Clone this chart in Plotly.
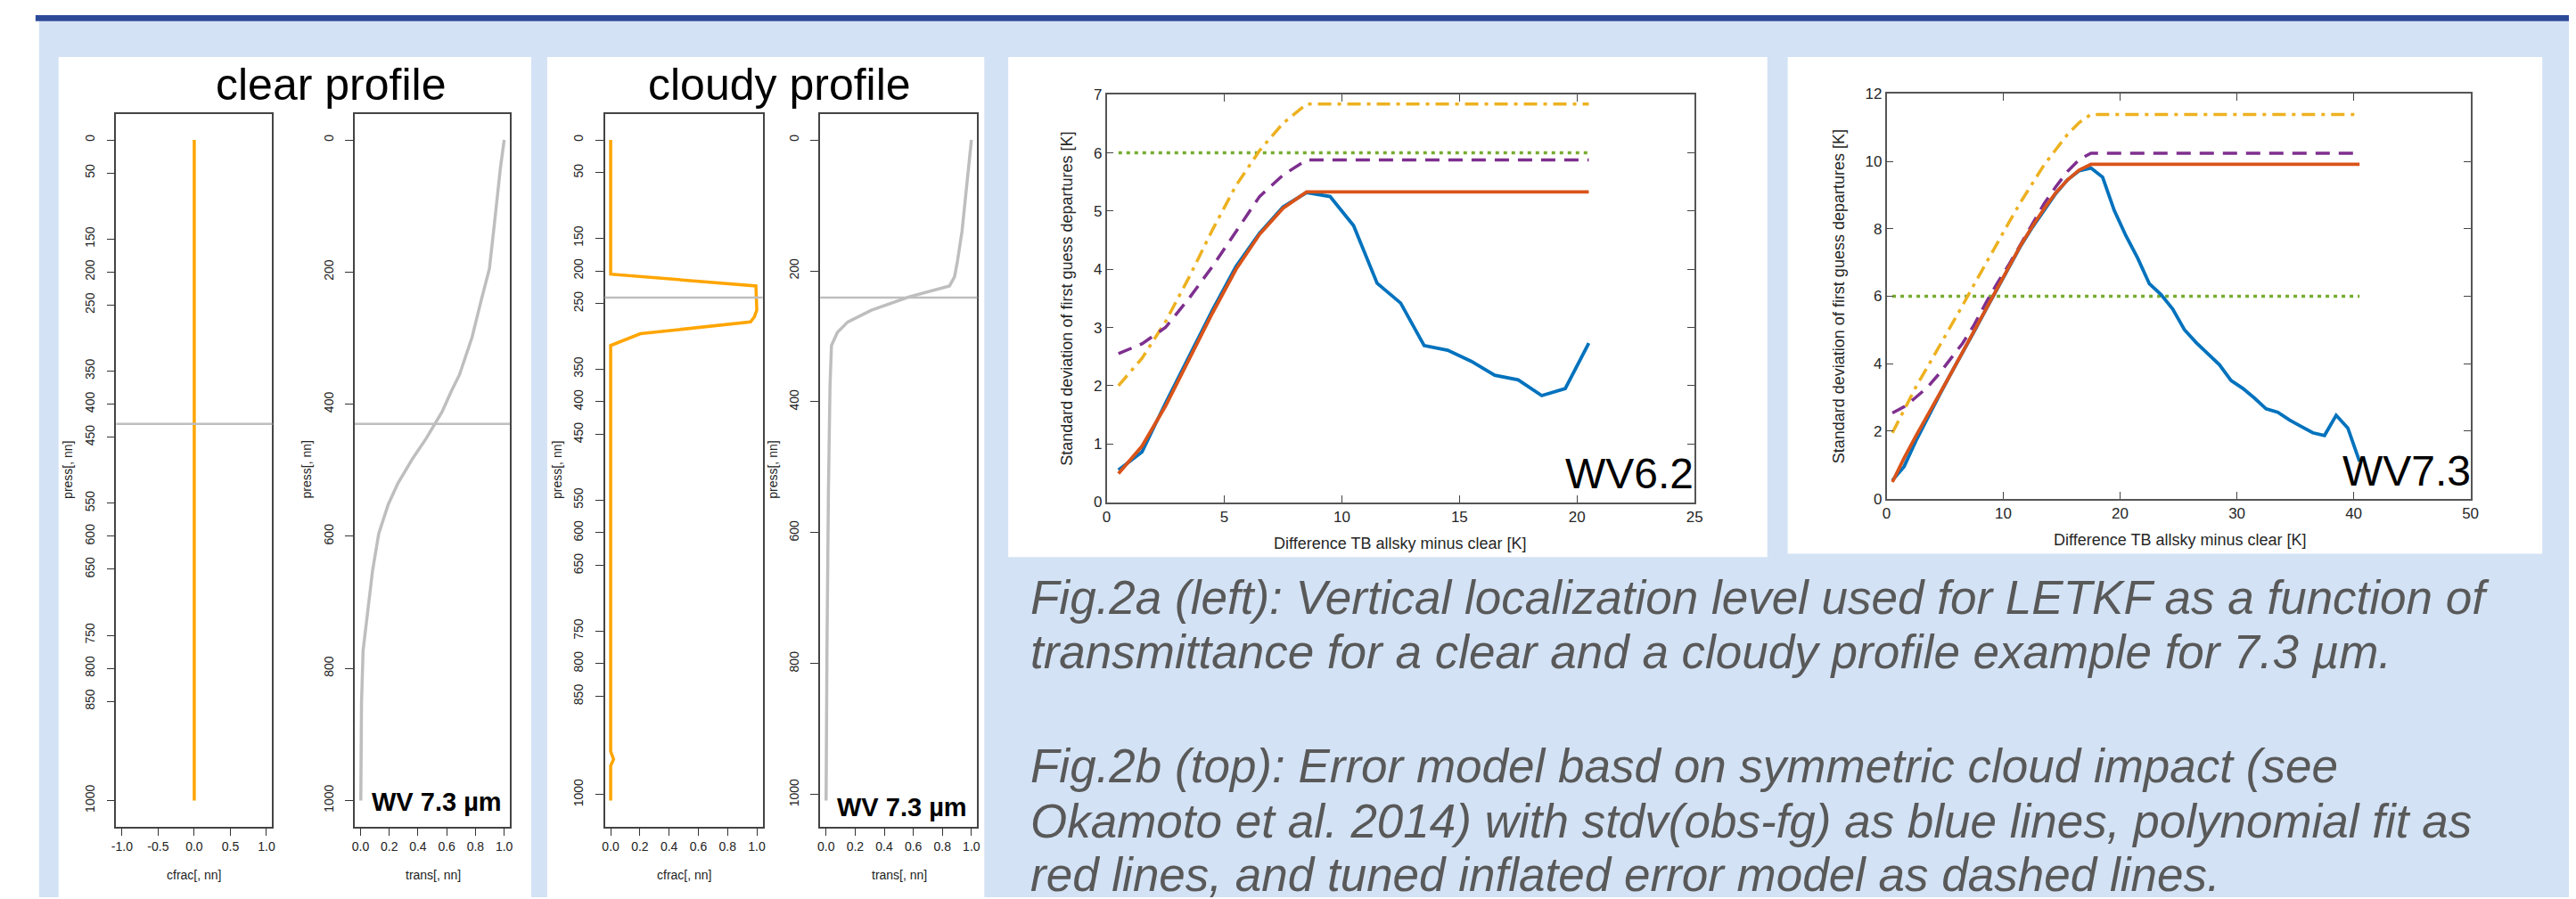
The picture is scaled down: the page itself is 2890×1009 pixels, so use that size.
import plotly.graph_objects as go

W, H = 2890, 1009
def px(x): return x / W
def py(y): return 1 - y / H

# ---------------- data ----------------
press_ticks_left = [0, 50, 150, 200, 250, 350, 400, 450, 550, 600, 650, 750, 800, 850, 1000]
press_ticks_right = [0, 200, 400, 600, 800, 1000]
cfrac_ticks_clear = [-1.0, -0.5, 0.0, 0.5, 1.0]
cfrac_ticks_cloudy = [0.0, 0.2, 0.4, 0.6, 0.8, 1.0]
trans_ticks = [0.0, 0.2, 0.4, 0.6, 0.8, 1.0]

clear_cfrac_p = [0, 1000]
clear_cfrac = [0.0, 0.0]
clear_trans_p = [0, 42, 131, 195, 243, 299, 356, 380, 412, 436, 452, 484, 520, 552, 596, 652, 733, 773, 853, 1000]
clear_trans = [1.0, 0.974, 0.93, 0.897, 0.84, 0.776, 0.688, 0.633, 0.567, 0.50, 0.457, 0.358, 0.26, 0.193,
               0.127, 0.084, 0.04, 0.018, 0.007, 0.002]
clear_level = 430

cloudy_cfrac_p = [0, 205, 223, 243, 260, 270, 278, 296, 314, 934, 946, 956, 1009]
cloudy_cfrac = [0.0, 0.0, 0.994, 1.0, 1.0, 0.984, 0.957, 0.203, 0.0, 0.0, 0.02, 0.0, 0.0]
cloudy_trans_p = [0, 43, 140, 185, 209, 223, 240, 260, 278, 294, 314, 375, 537, 780, 1009]
cloudy_trans = [1.0, 0.98, 0.935, 0.904, 0.884, 0.849, 0.567, 0.312, 0.149, 0.078, 0.037, 0.027, 0.016, 0.006, 0.0]
cloudy_level = 241

wv62_x = [0.5, 1.5, 2.5, 3.5, 4.5, 5.5, 6.5, 7.5, 8.5, 9.5, 10.5, 11.5, 12.5, 13.5, 14.5, 15.5, 16.5,
          17.5, 18.5, 19.5, 20.5]
wv62_stdv = [0.55, 0.86, 1.70, 2.50, 3.30, 4.05, 4.62, 5.07, 5.32, 5.25, 4.75, 3.76, 3.42, 2.69, 2.61, 2.42,
             2.18, 2.10, 1.83, 1.95, 2.73]
wv62_fit_x = [0.5, 1.5, 2.5, 3.5, 4.5, 5.5, 6.5, 7.5, 8.5, 20.5]
wv62_fit = [0.49, 0.96, 1.65, 2.45, 3.25, 4.00, 4.60, 5.05, 5.33, 5.33]
wv62_infl = [2.55, 2.72, 3.00, 3.50, 4.05, 4.65, 5.25, 5.62, 5.88, 5.88]
wv62_infl2 = [2.00, 2.47, 3.10, 3.86, 4.68, 5.44, 6.04, 6.51, 6.84, 6.84]
wv62_const_x = [0.5, 20.5]
wv62_const = [6.0, 6.0]

wv73_x = [0.5, 1.5, 2.5, 3.5, 4.5, 5.5, 6.5, 7.5, 8.5, 9.5, 10.5, 11.5, 12.5, 13.5, 14.5, 15.5, 16.5,
          17.5, 18.5, 19.5, 20.5, 21.5, 22.5, 23.5, 24.5, 25.5, 26.5, 27.5, 28.5, 29.5, 30.5, 31.5, 32.5,
          33.5, 34.5, 35.5, 36.5, 37.5, 38.5, 39.5, 40.5]
wv73_stdv = [0.54, 0.95, 1.70, 2.40, 3.05, 3.70, 4.30, 4.95, 5.60, 6.25, 6.90, 7.50, 8.05, 8.55, 9.05, 9.45,
             9.72, 9.80, 9.53, 8.54, 7.79, 7.13, 6.37, 6.05, 5.62, 5.01, 4.63, 4.30, 3.97, 3.50, 3.27, 2.98,
             2.66, 2.56, 2.33, 2.14, 1.95, 1.87, 2.47, 2.09, 1.10]
wv73_fit_x = [0.5, 1.5, 2.5, 3.5, 4.5, 5.5, 6.5, 7.5, 8.5, 9.5, 10.5, 11.5, 12.5, 13.5, 14.5, 15.5, 16.5,
              17.5, 40.5]
wv73_fit = [0.49, 1.20, 1.85, 2.45, 3.08, 3.70, 4.33, 4.97, 5.60, 6.26, 6.90, 7.52, 8.08, 8.60, 9.07, 9.45,
            9.74, 9.91, 9.91]
wv73_infl = [2.54, 2.72, 3.00, 3.30, 3.70, 4.15, 4.60, 5.15, 5.80, 6.40, 6.95, 7.55, 8.15, 8.75, 9.25, 9.70,
             10.05, 10.24, 10.24]
wv73_infl2 = [1.95, 2.65, 3.30, 3.90, 4.50, 5.10, 5.72, 6.35, 6.98, 7.60, 8.20, 8.80, 9.35, 9.90, 10.35,
              10.80, 11.15, 11.39, 11.39]
wv73_const_x = [0.5, 40.5]
wv73_const = [6.0, 6.0]

caption_lines = [
    "Fig.2a (left): Vertical localization level used for LETKF as a function of",
    "transmittance for a clear and a cloudy profile example for 7.3 µm.",
    "Fig.2b (top): Error model basd on symmetric cloud impact (see",
    "Okamoto et al. 2014) with stdv(obs-fg) as blue lines, polynomial fit as",
    "red lines, and tuned inflated error model as dashed lines.",
]

# ---------------- styles ----------------
ORANGE = "#FFA500"
GREY = "#BEBEBE"
M_BLUE, M_RED, M_YEL, M_PUR, M_GRN = "#0072BD", "#D95319", "#EDB120", "#7E2F8E", "#77AC30"
LIGHT = "#D3E2F5"
FONT = "Liberation Sans, Arial, Helvetica, sans-serif"

fig = go.Figure()

# R panels
r_panels = [
    (1, (117, 293), [-1.08, 1.08], cfrac_ticks_clear, [1039.3, -39.3], press_ticks_left),
    (2, (386, 561), [-0.04, 1.04], trans_ticks, [1039.3, -39.3], press_ticks_right),
    (3, (668, 846), [-0.04, 1.04], cfrac_ticks_cloudy, [1048.6, -39.7], press_ticks_left),
    (4, (911, 1088), [-0.04, 1.04], trans_ticks, [1048.6, -39.7], press_ticks_right),
]
ydom = [py(928), py(113)]
layout_axes = {}
for idx, dom, xr, xt, yr, yt in r_panels:
    xname = "xaxis" if idx == 1 else f"xaxis{idx}"
    yname = "yaxis" if idx == 1 else f"yaxis{idx}"
    layout_axes[xname] = dict(
        domain=[px(dom[0]), px(dom[1])], range=xr, anchor=f"y{'' if idx == 1 else idx}",
        tickvals=xt, ticktext=[f"{v:.1f}" for v in xt], ticks="outside", ticklen=9, tickwidth=1.3,
        tickcolor="#333", showline=True, linecolor="#444", linewidth=1.6, mirror=True,
        showgrid=False, zeroline=False, tickfont=dict(family=FONT, size=14, color="#222"))
    layout_axes[yname] = dict(
        domain=ydom, range=yr, anchor=f"x{'' if idx == 1 else idx}",
        tickvals=yt, ticktext=[str(v) for v in yt], ticks="outside", ticklen=9, tickwidth=1.3,
        tickcolor="#333", tickangle=-90, ticklabelstandoff=8, showline=True, linecolor="#444",
        linewidth=1.6, mirror=True, showgrid=False, zeroline=False,
        tickfont=dict(family=FONT, size=14, color="#222"))

def add(x, y, ax, color, width, dash="solid"):
    suffix = "" if ax == 1 else str(ax)
    fig.add_trace(go.Scatter(x=x, y=y, mode="lines", xaxis=f"x{suffix}", yaxis=f"y{suffix}",
                             line=dict(color=color, width=width, dash=dash), showlegend=False,
                             hoverinfo="skip"))

add(clear_cfrac, clear_cfrac_p, 1, ORANGE, 3.5)
add(clear_trans, clear_trans_p, 2, GREY, 3.5)
add(cloudy_cfrac, cloudy_cfrac_p, 3, ORANGE, 3.5)
add(cloudy_trans, cloudy_trans_p, 4, GREY, 3.5)

# Matlab panels
m_panels = [
    (5, (1234, 1897), (91, 557), [0, 25], [0, 5, 10, 15, 20, 25], [0, 7], [0, 1, 2, 3, 4, 5, 6, 7]),
    (6, (2113.5, 2772), (90, 553), [0, 50], [0, 10, 20, 30, 40, 50], [0, 12], [0, 2, 4, 6, 8, 10, 12]),
]
for idx, xd, yd, xr, xt, yr, yt in m_panels:
    common = dict(ticks="inside", ticklen=8, tickwidth=1.2, tickcolor="#444", showline=True,
                  linecolor="#555", linewidth=1.5, mirror="ticks", showgrid=False, zeroline=False,
                  tickfont=dict(family=FONT, size=17, color="#262626"))
    layout_axes[f"xaxis{idx}"] = dict(domain=[px(xd[0]), px(xd[1])], range=xr, anchor=f"y{idx}",
                                      tickvals=xt, **common)
    layout_axes[f"yaxis{idx}"] = dict(domain=[py(yd[1]), py(yd[0])], range=yr, anchor=f"x{idx}",
                                      tickvals=yt, **common)

DASH = "16px,10px"
DASHDOT = "15px,7px,4px,7px"
DOT = "4px,5px"
add(wv62_const_x, wv62_const, 5, M_GRN, 3.5, DOT)
add(wv62_fit_x, wv62_infl2, 5, M_YEL, 3.5, DASHDOT)
add(wv62_fit_x, wv62_infl, 5, M_PUR, 3.5, DASH)
add(wv62_x, wv62_stdv, 5, M_BLUE, 3.8)
add(wv62_fit_x, wv62_fit, 5, M_RED, 3.8)

add(wv73_const_x, wv73_const, 6, M_GRN, 3.5, DOT)
add(wv73_fit_x, wv73_infl2, 6, M_YEL, 3.5, DASHDOT)
add(wv73_fit_x, wv73_infl, 6, M_PUR, 3.5, DASH)
add(wv73_x, wv73_stdv, 6, M_BLUE, 3.8)
add(wv73_fit_x, wv73_fit, 6, M_RED, 3.8)

# ---------------- shapes ----------------
shapes = [
    dict(type="rect", xref="paper", yref="paper", x0=px(30), x1=1, y0=0, y1=py(7),
         fillcolor=LIGHT, line=dict(width=0), layer="below"),
    dict(type="rect", xref="paper", yref="paper", x0=px(26), x1=px(2887), y0=py(7), y1=1,
         fillcolor="#2D4A9A", line=dict(width=0), layer="below"),
]
for (x0, x1, y0, y1) in [(52, 585, 48, 1009), (603, 1096, 48, 1009), (1123, 1979, 48, 620),
                         (2002, 2853, 48, 616)]:
    shapes.append(dict(type="rect", xref="paper", yref="paper", x0=px(x0), x1=px(x1), y0=py(y1), y1=py(y0),
                       fillcolor="white", line=dict(width=0), layer="below"))
for ax, lev in [(1, clear_level), (2, clear_level), (3, cloudy_level), (4, cloudy_level)]:
    suffix = "" if ax == 1 else str(ax)
    shapes.append(dict(type="line", xref=f"x{suffix} domain", yref=f"y{suffix}", x0=0, x1=1, y0=lev, y1=lev,
                       line=dict(color=GREY, width=2.5), layer="above"))

# ---------------- annotations ----------------
ann = []
def text(x, y, s, size, color="black", angle=0, xanchor="center", family=FONT):
    ann.append(dict(x=px(x), y=py(y), xref="paper", yref="paper", text=s, showarrow=False,
                    font=dict(family=family, size=size, color=color), textangle=angle,
                    xanchor=xanchor, yanchor="middle"))

text(359, 80, "clear profile", 50)
text(865, 80, "cloudy profile", 50)
text(205, 984, "cfrac[, nn]", 14, "#222")
text(474, 984, "trans[, nn]", 14, "#222")
text(757, 984, "cfrac[, nn]", 14, "#222")
text(1000, 984, "trans[, nn]", 14, "#222")
for x in (63, 332, 614, 858):
    text(x, 520, "press[, nn]", 14, "#222", angle=-90)
text(478, 900, "<b>WV 7.3 µm</b>", 29)
text(1003, 906, "<b>WV 7.3 µm</b>", 29)

text(1565, 604, "Difference TB allsky minus clear [K]", 18, "#262626")
text(2444, 600, "Difference TB allsky minus clear [K]", 18, "#262626")
text(1189, 324, "Standard deviation of first guess departures [K]", 18, "#262626", angle=-90)
text(2060, 322, "Standard deviation of first guess departures [K]", 18, "#262626", angle=-90)
text(1823, 524, "WV6.2", 48)
text(2700, 521, "WV7.3", 48)

fs = 53
for line, base in zip(caption_lines, [685, 747, 877, 940, 1002]):
    text(1146, base - 0.35 * fs, f"<i>{line}</i>", fs, "#595959", xanchor="left")

fig.update_layout(
    width=W, height=H, margin=dict(l=0, r=0, t=0, b=0), autosize=False,
    paper_bgcolor="white", plot_bgcolor="rgba(0,0,0,0)", showlegend=False,
    shapes=shapes, annotations=ann, **layout_axes)

fig.write_html("out.html")
